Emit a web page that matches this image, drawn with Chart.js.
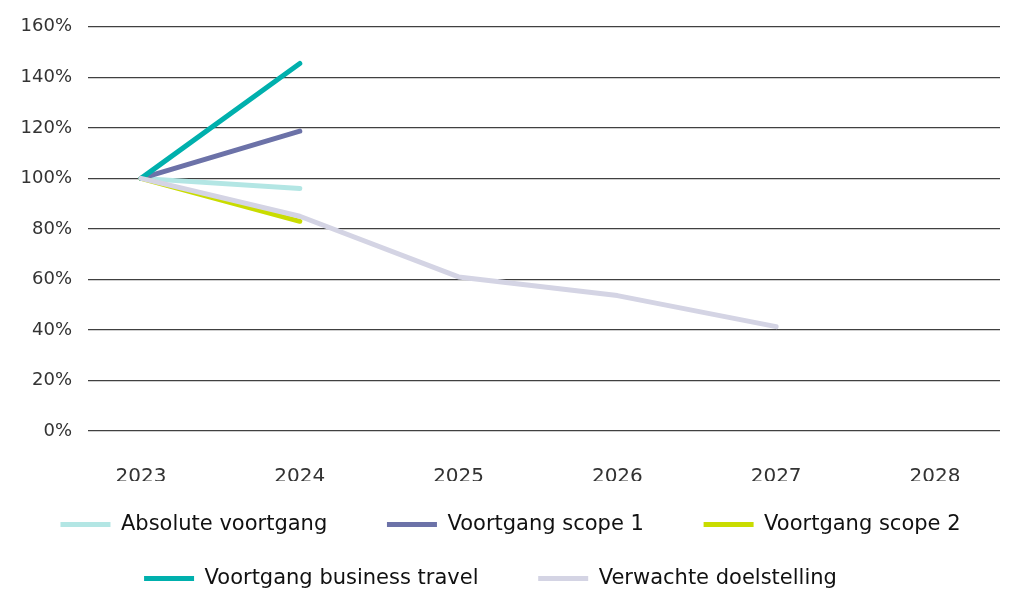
<!DOCTYPE html>
<html>
<head>
<meta charset="utf-8">
<script src="https://cdn.jsdelivr.net/npm/chart.js@4.4.1/dist/chart.umd.min.js"></script>
<style>
  html, body { margin: 0; padding: 0; background: #ffffff; overflow: hidden; }
  #wrap { width: 1016px; height: 599px; }
</style>
</head>
<body>
<div id="wrap"><canvas id="c" width="1016" height="599"></canvas></div>
<script>
const years = [2023, 2024, 2025, 2026, 2027, 2028];
const yTicks = [0, 20, 40, 60, 80, 100, 120, 140, 160];

const seriesNames = [
  'Absolute voortgang',
  'Voortgang scope 1',
  'Voortgang scope 2',
  'Voortgang business travel',
  'Verwachte doelstelling'
];
const absoluteVoortgang = [100, 96];
const voortgangScope1 = [100, 118.7];
const voortgangScope2 = [100, 83];
const voortgangBusinessTravel = [100, 145.5];
const verwachteDoelstelling = [100, 85, 61, 53.6, 41.3];

const seriesValues = [absoluteVoortgang, voortgangScope1, voortgangScope2, voortgangBusinessTravel, verwachteDoelstelling];
const seriesColors = ['#b3e6e4', '#6c72a8', '#c9dc00', '#00b0ad', '#d4d4e4'];

// extra trailing gap (in spaces) after each legend entry, for spacing only
const legendGap = [4, 4, 0, 4, 6];

const FONT = '"DejaVu Sans", "Open Sans", sans-serif';

const datasets = seriesNames.map((name, i) => ({
  label: name,
  data: seriesValues[i].map((v, j) => ({ x: years[j], y: v })),
  borderColor: seriesColors[i],
  backgroundColor: seriesColors[i],
  borderWidth: 5,
  borderCapStyle: 'round',
  borderJoinStyle: 'round',
  pointRadius: 0,
  pointHoverRadius: 0,
  tension: 0,
  fill: false,
  order: seriesNames.length - i
}));

new Chart(document.getElementById('c'), {
  type: 'line',
  data: { datasets },
  options: {
    responsive: false,
    animation: false,
    devicePixelRatio: 1,
    layout: { padding: { left: 21, right: 16, top: 25, bottom: 0 } },
    plugins: {
      tooltip: { enabled: false },
      legend: {
        position: 'bottom',
        labels: {
          usePointStyle: true,
          pointStyle: 'line',
          pointStyleWidth: 50,
          boxWidth: 50,
          padding: 33,
          color: '#111111',
          font: { family: FONT, size: 21 },
          sort: (a, b) => a.datasetIndex - b.datasetIndex,
          generateLabels: (chart) => {
            const items = Chart.defaults.plugins.legend.labels.generateLabels(chart);
            items.forEach(it => { it.text = it.text + ' '.repeat(legendGap[it.datasetIndex] || 0); });
            return items;
          }
        }
      }
    },
    scales: {
      x: {
        type: 'linear',
        min: 2022.666,
        max: 2028.41,
        afterBuildTicks: (scale) => { scale.ticks = years.map(v => ({ value: v })); },
        afterFit: (scale) => { scale.height = 50; },
        grid: { display: false, drawTicks: false },
        border: { display: false },
        ticks: {
          padding: 34,
          color: '#333333',
          font: { family: FONT, size: 20 },
          callback: (v) => String(v),
          maxRotation: 0,
          autoSkip: false
        }
      },
      y: {
        min: 0,
        max: 160,
        afterBuildTicks: (scale) => { scale.ticks = yTicks.map(v => ({ value: v })); },
        afterFit: (scale) => { scale.width = 67; },
        grid: { color: '#404040', lineWidth: 1.2, drawTicks: false },
        border: { display: false },
        ticks: {
          padding: 16,
          color: '#333333',
          font: { family: FONT, size: 18 },
          callback: (v) => v + '%'
        }
      }
    }
  }
});
</script>
</body>
</html>
